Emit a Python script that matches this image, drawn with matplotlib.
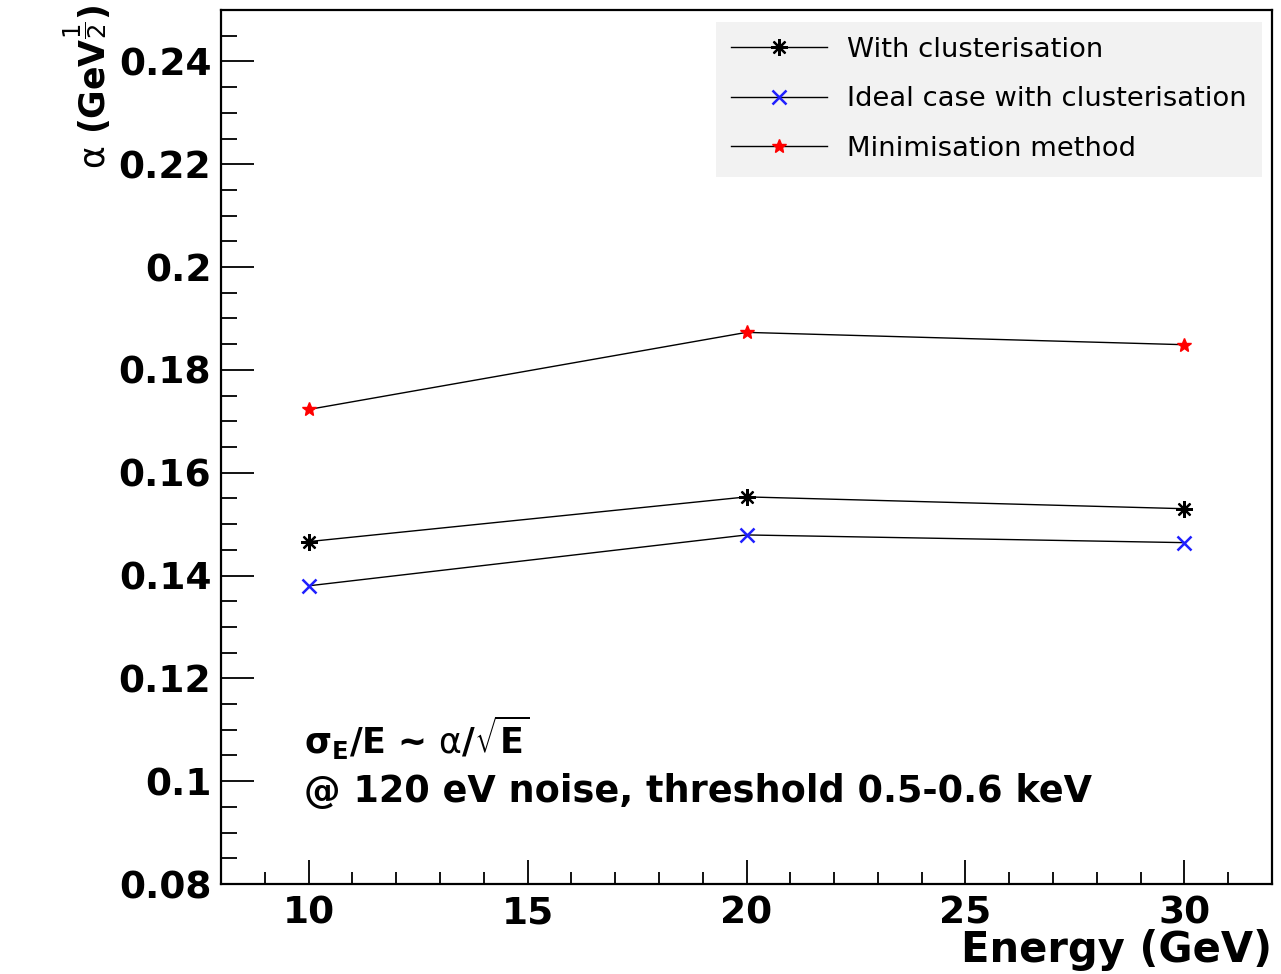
import matplotlib.pyplot as plt
from matplotlib.ticker import MultipleLocator

# энергия пучка и параметр alpha для трёх методов
energy = [10, 20, 30]
alpha_clust = [0.1466, 0.1553, 0.1530]
alpha_ideal = [0.1380, 0.1479, 0.1464]
alpha_minim = [0.1723, 0.1873, 0.1849]
labels = ['With clusterisation', 'Ideal case with clusterisation', 'Minimisation method']

plt.rcParams['font.family'] = ['DejaVu Sans']
plt.rcParams['mathtext.fontset'] = 'dejavusans'

fig = plt.figure(figsize=(12.81, 9.74), dpi=100)
ax = fig.add_axes([0.1725, 0.0924, 0.8205, 0.8973])

ax.plot(energy, alpha_clust, color='black', lw=1.0, marker=(8, 2, 0), ms=12,
        mec='black', mew=1.6, label=labels[0])
ax.plot(energy, alpha_ideal, color='black', lw=1.0, marker='x', ms=10,
        mec='#1f1fff', mew=1.8, label=labels[1])
ax.plot(energy, alpha_minim, color='black', lw=1.0, marker='*', ms=10,
        mec='red', mfc='red', label=labels[2])

ax.set_xlim(8, 32)
ax.set_ylim(0.08, 0.25)
ax.xaxis.set_major_locator(MultipleLocator(5))
ax.xaxis.set_minor_locator(MultipleLocator(1))
ax.yaxis.set_major_locator(MultipleLocator(0.02))
ax.yaxis.set_minor_locator(MultipleLocator(0.005))
ax.set_yticks(ax.get_yticks())
ax.set_yticklabels([f'{v:g}' for v in ax.get_yticks()])
ax.set_ylim(0.08, 0.25)
ax.tick_params(which='both', direction='in', top=False, right=False,
               labelsize=27, width=1.3)
ax.tick_params(axis='x', which='major', length=17, pad=8)
ax.tick_params(axis='x', which='minor', length=8.6)
ax.tick_params(axis='y', which='major', length=24, pad=7)
ax.tick_params(axis='y', which='minor', length=11.5)
for lab in ax.get_xticklabels() + ax.get_yticklabels():
    lab.set_fontweight('bold')
for sp in ax.spines.values():
    sp.set_linewidth(1.6)

fig.text(0.993, 0.003, 'Energy (GeV)', ha='right', va='bottom',
         fontsize=30, fontweight='bold')
fig.text(0.068, 0.996, r'$\mathrm{\alpha}$ (GeV$^{\dfrac{1}{2}}$)', rotation=90,
         ha='center', va='top', fontsize=25, fontweight='bold')

ax.text(9.9, 0.1085, r'$\mathbf{\sigma_E}$/E ~ $\mathrm{\alpha}$/$\sqrt{\mathbf{E}}$',
        fontsize=25, fontweight='bold', va='center')
ax.text(9.9, 0.098, '@ 120 eV noise, threshold 0.5-0.6 keV',
        fontsize=26.4, fontweight='bold', va='center')

leg = ax.legend(loc='upper right', bbox_to_anchor=(0.9905, 0.9863),
                borderaxespad=0, fontsize=19.7, frameon=True, fancybox=False,
                borderpad=0.55, labelspacing=0.85, handlelength=3.5,
                handletextpad=0.75)
leg.get_frame().set_facecolor('#f2f2f2')
leg.get_frame().set_edgecolor('none')
leg.get_frame().set_alpha(1)

fig.savefig('out.png', dpi=100)
